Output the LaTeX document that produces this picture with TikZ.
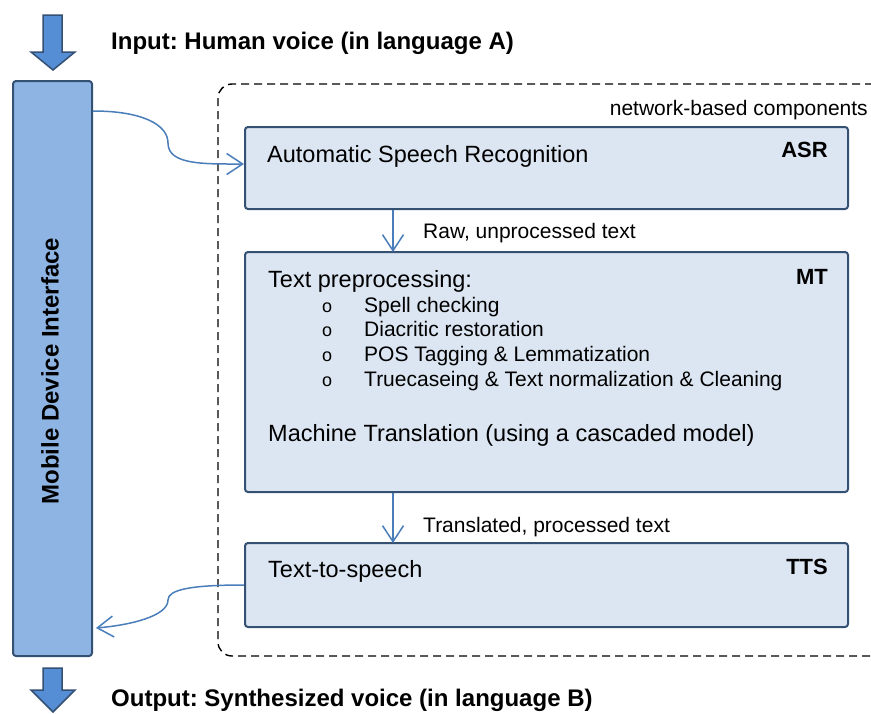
\documentclass[tikz,border=0pt]{standalone}
\usepackage{fontspec}
\setmainfont{Liberation Sans}
\usetikzlibrary{calc,arrows.meta}
\definecolor{boxfill}{RGB}{220,230,242}
\definecolor{boxline}{RGB}{52,80,115}
\definecolor{mobfill}{RGB}{142,180,227}
\definecolor{connblue}{RGB}{74,126,187}
\definecolor{bigarrow}{RGB}{85,142,213}
\newcommand{\bigtxt}{\fontsize{23.5}{28}\selectfont}
\newcommand{\smalltxt}{\fontsize{21}{25}\selectfont}
\newcommand{\titletxt}{\fontsize{24}{29}\selectfont\bfseries}
\frenchspacing
\begin{document}
\begin{tikzpicture}[x=1pt,y=-1pt,
  comp/.style={rectangle, draw=boxline, fill=boxfill, line width=2pt, rounded corners=3pt,
    minimum width=603pt, inner sep=0pt},
  txt/.style={inner sep=0pt, anchor=base west, font=\bigtxt},
  small/.style={inner sep=0pt, anchor=base west, font=\smalltxt},
  bulletmark/.style={inner sep=0pt, anchor=base west, font=\fontsize{18}{22}\selectfont},
  tag/.style={inner sep=0pt, anchor=base east, font=\fontsize{22}{26}\selectfont\bfseries},
  title/.style={inner sep=0pt, anchor=base west, font=\titletxt},
  conn/.style={draw=connblue, line width=1.5pt, -{Straight Barb[length=16pt,width=21pt,line width=1.5pt]}},
  blockarrow/.style={fill=bigarrow, draw=boxline, line width=1.5pt, line join=miter}
]
\useasboundingbox (0,0) rectangle (871,713);

% network area
\node[rectangle, draw=black, line width=1.4pt, dash pattern=on 8pt off 5pt, rounded corners=14pt,
  minimum width=682pt, minimum height=572pt, inner sep=0pt] (net) at (559,370) {};
\node[small, anchor=base east] (nettext) at (868,115) {network-based components};

% mobile device
\node[rectangle, draw=boxline, fill=mobfill, line width=2pt, rounded corners=3pt,
  minimum width=79pt, minimum height=575pt, inner sep=0pt] (mobile) at (52.5,368.5) {};
\node[rotate=90, inner sep=0pt, font=\titletxt] (mobtext) at (50,371) {Mobile Device Interface};

% block arrows
\draw[blockarrow] (43,15) -- (62,15) -- (62,52) -- (75,52) -- (53,70) -- (31,52) -- (43,52) -- cycle;
\draw[blockarrow] (43,668) -- (62,668) -- (62,690) -- (75,690) -- (53,712) -- (31,690) -- (43,690) -- cycle;
\node[title] (input) at (111,49) {Input: Human voice (in language A)};
\node[title] (output) at (111,706) {Output: Synthesized voice (in language B)};

% components
\node[comp, minimum height=82pt] (asr) at (546.5,168) {};
\node[comp, minimum height=240pt] (mt) at (546.5,372) {};
\node[comp, minimum height=84pt] (tts) at (546.5,585) {};

\node[txt] (asrtext) at (267,162) {Automatic Speech Recognition};
\node[tag] (asrtag) at (828,157) {ASR};

\node[txt] (pretext) at (268,287) {Text preprocessing:};
\node[tag] (mttag) at (828,284) {MT};
\foreach \y/\t [count=\i] in {312/Spell checking, 336/Diacritic restoration,
    361/POS Tagging \& Lemmatization, 386/Truecaseing \& Text normalization \& Cleaning} {
  \node[bulletmark] (bul\i) at (322,\y) {o};
  \node[small] (item\i) at (364,\y) {\t};
}
\node[txt] (mttext) at (268,441) {Machine Translation (using a cascaded model)};

\node[txt] (ttstext) at (268,577) {Text-to-speech};
\node[tag] (ttstag) at (828,574) {TTS};

% connectors
\draw[conn] ([xshift=-153.5pt]asr.south) -- ([xshift=-153.5pt, yshift=-1pt]mt.north);
\node[small] (rawlabel) at (423,238) {Raw, unprocessed text};
\draw[conn] ([xshift=-153.5pt]mt.south) -- ([xshift=-153.5pt, yshift=-1pt]tts.north);
\node[small] (translabel) at (423,532) {Translated, processed text};

\draw[conn] ($(mobile.north east)+(0,31)$) .. controls +(50,0) and +(0,-18) .. (168,143)
  .. controls +(0,22) and +(-40,0) .. ([yshift=4pt]asr.west);
\draw[conn] (tts.west) .. controls +(-55,0) and +(0,-10) .. (168,600)
  .. controls +(0,16) and +(35,-3) .. ($(mobile.south east)+(3,-29)$);
\end{tikzpicture}
\end{document}
